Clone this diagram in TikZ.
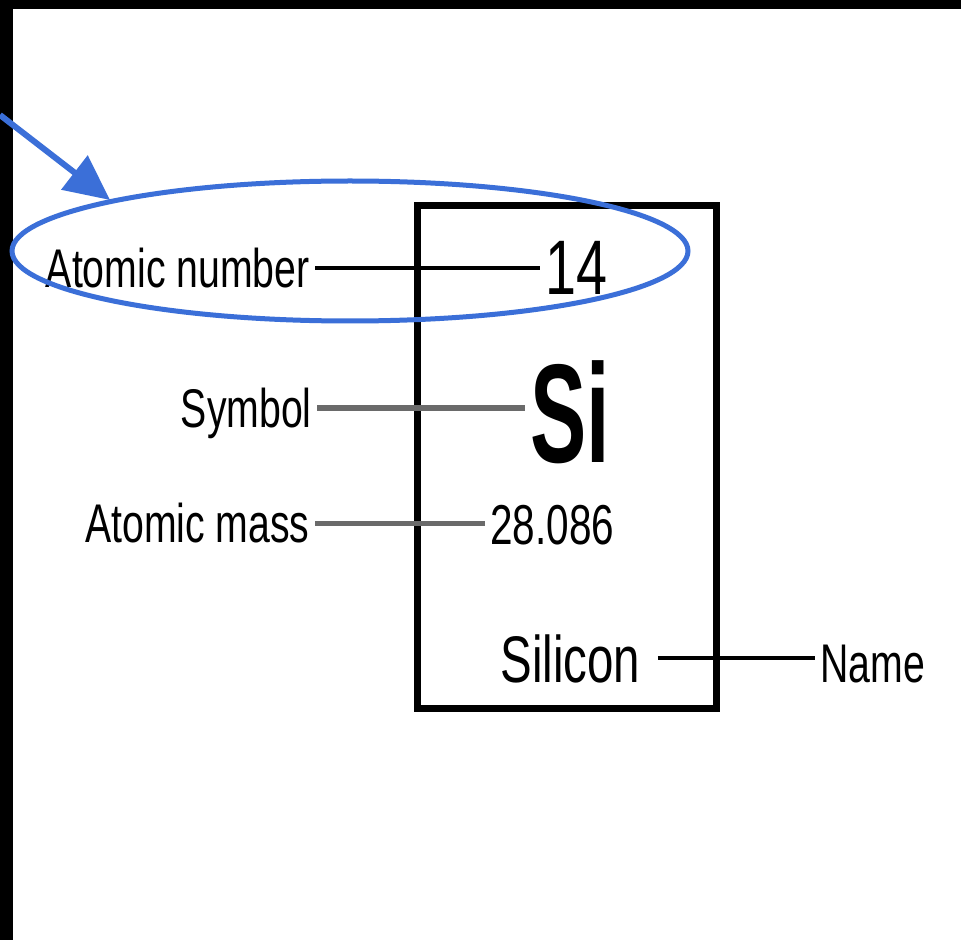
\documentclass[tikz,border=0pt]{standalone}
\usepackage{fontspec}
\usepackage{xcolor}
\usetikzlibrary{arrows.meta}

\newfontfamily\labelfont[FakeStretch=0.72]{Liberation Sans}
\newfontfamily\symfont[FakeStretch=0.6]{Liberation Sans}

\definecolor{markblue}{HTML}{3B6FD8}
\definecolor{leadgray}{HTML}{6A6A6A}

\tikzset{
    label text/.style={inner sep=0.1cm, text depth=0pt, font=\labelfont\fontsize{31}{31}\selectfont},
    lead/.style={line width=0.08cm},
}

\begin{document}
\begin{tikzpicture}

    % Frame of the picture
    \useasboundingbox (0,0) rectangle (19.22,-18.8);
    \fill[white] (0,0) rectangle (19.22,-18.8);
    \fill[black] (0,0) rectangle (19.22,-0.18);
    \fill[black] (0,0) rectangle (0.26,-18.8);

    % Element cell
    \node[draw, line width=0.14cm, minimum width=5.98cm, minimum height=10.04cm] (cell) at (11.33,-9.14) {};

    % Values inside the cell
    \node[label text, anchor=base west, font=\labelfont\fontsize{44}{44}\selectfont] (num) at (10.8,-5.9) {14};
    \node[label text, anchor=base west, font=\symfont\bfseries\fontsize{80}{80}\selectfont] (sym) at (10.5,-9.24) {Si};
    \node[label text, anchor=base west, font=\labelfont\fontsize{32}{32}\selectfont] (mass) at (9.7,-10.9) {28.086};
    \node[label text, anchor=base west, font=\labelfont\fontsize{37.5}{37.5}\selectfont] (elname) at (9.9,-13.64) {Silicon};

    % Labels
    \node[label text, anchor=base east] (anum) at (6.3,-5.76) {Atomic number};
    \node[label text, anchor=base east] (symlab) at (6.34,-8.56) {Symbol};
    \node[label text, anchor=base east] (masslab) at (6.3,-10.86) {Atomic mass};
    \node[label text, anchor=base west] (namelab) at (16.3,-13.64) {Name};

    % Leader lines
    \draw[lead] (anum.east) -- (anum.east -| num.west);
    \draw[lead, leadgray, line width=0.12cm] (symlab.east) -- (symlab.east -| sym.west);
    \draw[lead, leadgray, line width=0.1cm] (masslab.east) -- (masslab.east -| mass.west);
    \draw[lead, shorten <=0.25cm] (elname.east) -- (elname.east -| namelab.west);

    % Highlight of the atomic number
    \draw[markblue, line width=0.1cm] (7,-5.02) ellipse [x radius=6.76, y radius=1.4];
    \coordinate (tail) at (0,-2.3);
    \coordinate (tip) at (2.2,-4.0);
    \draw[markblue, line width=0.12cm, -{Triangle[length=0.9cm, width=0.84cm]}] (tail) -- (tip);

\end{tikzpicture}
\end{document}
